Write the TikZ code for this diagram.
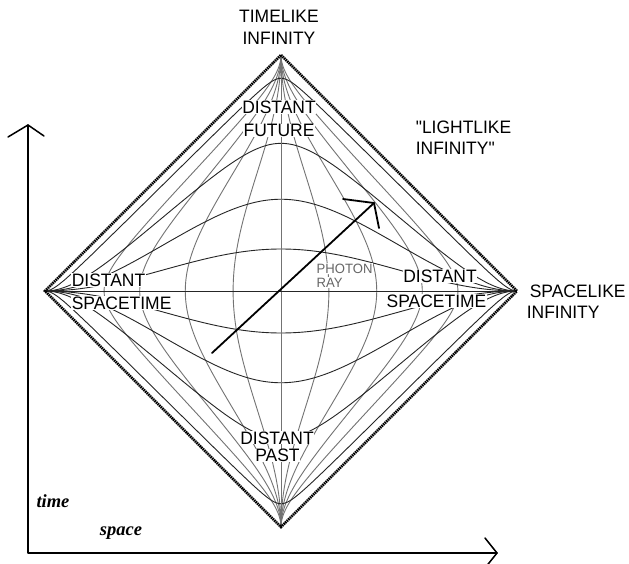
\documentclass[tikz,border=0pt]{standalone}
\usepackage{fontspec}
\newfontfamily\labfont[FakeStretch=0.97]{Liberation Sans}
\newfontfamily\axfont{Liberation Serif}
\begin{document}
\begin{tikzpicture}[x=1pt,y=-1pt]
\useasboundingbox[fill=white] (0,0) rectangle (629,564);
\def\K{1.3111}
\tikzset{
  vcurve/.style={draw=black!55, line width=0.9pt},
  hcurve/.style={draw=black!85, line width=0.9pt},
  edgeline/.style={line width=2.6pt, dash pattern=on 1.5pt off 0.7pt, line cap=butt},
  lab/.style={font=\labfont\fontsize{18}{18}\selectfont, inner sep=0.6pt, fill=white, anchor=base},
  smalllab/.style={font=\labfont\fontsize{13.5}{13.5}\selectfont, text=black!60, inner sep=0.5pt, fill=white, anchor=base west},
  axlab/.style={font=\axfont\bfseries\itshape\fontsize{18.5}{18.5}\selectfont, inner sep=0pt, anchor=base},
  ray/.style={line width=1.8pt, line cap=round, line join=round},
  axis/.style={line width=1.5pt, line cap=round, line join=round}
}
\newcommand\mkxcurve[1]{%
  \draw[vcurve] plot[domain=-89.9:89.9, samples=181, variable=\s]
   ({281+\K*(atan(tan(\s)+(#1))-atan(tan(\s)-(#1)))},{291-\K*(atan(tan(\s)+(#1))+atan(tan(\s)-(#1)))});}
\newcommand\mktcurve[1]{%
  \draw[hcurve] plot[domain=-89.9:89.9, samples=181, variable=\s]
   ({281+\K*(atan((#1)+tan(\s))-atan((#1)-tan(\s)))},{291-\K*(atan((#1)+tan(\s))+atan((#1)-tan(\s)))});}

\coordinate (top) at (281,55);
\coordinate (bot) at (281,527);
\coordinate (lft) at (45,291);
\coordinate (rgt) at (517,291);

% grid
\foreach \a in {0.33,0.74,1.37,2.41} {\mkxcurve{\a}\mkxcurve{-\a}}
\foreach \a in {0.287,0.70,1.5,6.4} {\mktcurve{\a}\mktcurve{-\a}}
\draw[vcurve] (top) -- (bot);
\draw[hcurve] (lft) -- (rgt);

% diamond edges
\draw[edgeline] (top) -- (rgt) -- (bot) -- (lft) -- cycle;

% photon ray
\coordinate (ps) at (212,353);
\coordinate (pe) at (374,203);
\coordinate (pa1) at (343,199);
\coordinate (pa2) at (379,228);
\draw[ray] (ps) -- (pe);
\draw[ray] (pa1) -- (pe) -- (pa2);

% axes
\coordinate (ao) at (28,553);
\coordinate (at) at (28,125);
\coordinate (as) at (497,553);
\coordinate (at1) at (8,137);
\coordinate (at2) at (44,136);
\coordinate (as1) at (485,538);
\coordinate (as2) at (485,568);
\draw[axis] (at) -- (ao) -- (as);
\draw[axis] (at1) -- (at) -- (at2);
\draw[axis] (as1) -- (as) -- (as2);

% labels
\node[lab] (tl1) at (279,22.7) {TIMELIKE};
\node[lab] (tl2) at (279,45) {INFINITY};
\node[lab] (df1) at (279,113.3) {DISTANT};
\node[lab] (df2) at (279,136.7) {FUTURE};
\node[lab, anchor=base west] (ll1) at (415,133.3) {"LIGHTLIKE};
\node[lab, anchor=base west] (ll2) at (415,155) {INFINITY"};
\node[lab, anchor=base west] (dl1) at (71,286) {DISTANT};
\node[lab, anchor=base west] (dl2) at (71,309) {SPACETIME};
\node[lab] (dr1) at (440,282) {DISTANT};
\node[lab] (dr2) at (436.5,307) {SPACETIME};
\node[lab, anchor=base west] (sl1) at (529,297) {SPACELIKE};
\node[lab, anchor=base west] (sl2) at (526,318) {INFINITY};
\node[smalllab] (ph1) at (316,273) {PHOTON};
\node[smalllab] (ph2) at (316,287) {RAY};
\node[lab, inner sep=0.3pt] (dp1) at (277,444) {DISTANT};
\node[lab, inner sep=0.3pt] (dp2) at (277.5,461.5) {PAST};
\node[axlab] (tm) at (53,507) {time};
\node[axlab] (sp) at (121,535) {space};
\end{tikzpicture}
\end{document}
